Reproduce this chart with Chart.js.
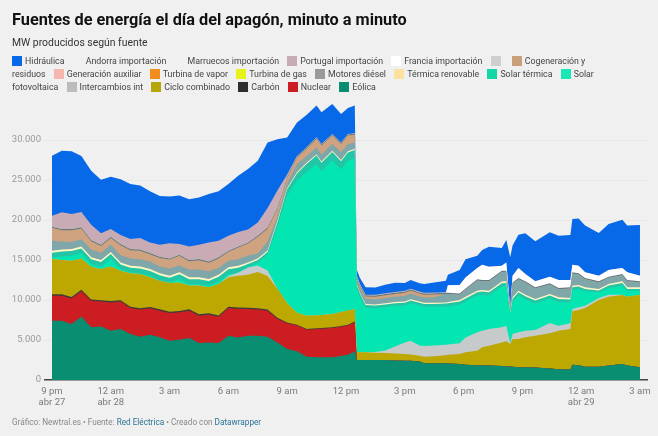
<!DOCTYPE html>
<html lang="es">
<head>
<meta charset="utf-8">
<title>Fuentes de energía el día del apagón</title>
<script src="https://cdn.jsdelivr.net/npm/chart.js@4"></script>
<style>
html,body{margin:0;padding:0;background:#f0f0f0;}
body{width:658px;height:436px;position:relative;overflow:hidden;font-family:Roboto,sans-serif;}
canvas{position:absolute;left:0;top:0;}
#title{position:absolute;left:12px;top:9px;font-size:16.3px;line-height:22px;font-weight:700;color:#111;white-space:nowrap;}
#sub{position:absolute;left:12px;top:36px;font-size:10.4px;line-height:14px;color:#333;white-space:nowrap;}
#legend{position:absolute;left:12px;top:55px;width:600px;font-size:8.8px;line-height:13.2px;color:#444;}
#legend .sw{display:inline-block;width:10px;height:10px;margin-right:3px;vertical-align:-1.5px;}
#legend .it{margin-right:6px;}
#foot{position:absolute;left:12px;top:416px;font-size:8.2px;line-height:12px;color:#888;white-space:nowrap;}
#foot a{color:#2b7396;text-decoration:none;}
</style>
</head>
<body>
<canvas id="c" width="658" height="436"></canvas>
<div id="title">Fuentes de energía el día del apagón, minuto a minuto</div>
<div id="sub">MW producidos según fuente</div>
<div id="legend"></div>
<div id="foot">Gráfico: Newtral.es • Fuente: <a>Red Eléctrica</a> • Creado con <a>Datawrapper</a></div>
<script>
// hours since 9 pm, Apr 27
const hours = [0,0.5,1,1.5,2,2.5,3,3.5,4,4.5,5,5.5,6,6.5,7,7.5,8,8.5,9,9.5,10,10.5,11,11.5,12,12.5,13,13.5,13.75,14.3,14.75,15.1,15.45,15.55,15.7,16,16.5,17,17.5,18,18.3,18.75,19,19.5,20.1,20.2,20.8,21.1,21.7,21.95,22.3,22.95,23.18,23.38,23.5,23.8,24.15,24.66,25.4,25.85,26.45,26.55,26.87,27.2,27.9,28.4,29.1,29.35,30];

const eolica = [7400,7400,7000,7900,6580,6700,6170,6370,5750,5400,5660,5330,4900,5040,5250,4620,4700,4620,5540,5300,5540,5540,5400,4700,3875,3580,2900,2830,2830,2830,3000,3170,3580,2500,2500,2500,2500,2500,2450,2400,2400,2300,2080,2080,2080,2050,2000,1900,1850,1830,1800,1750,1700,1700,1650,1600,1580,1550,1450,1350,1300,1900,1850,1670,1670,1800,2000,1800,1580];
const nuclear = [3140,3140,3200,3200,3320,3100,3530,3430,3250,3400,3300,3330,3475,3420,3410,3420,3470,3280,3460,3600,3335,3260,3260,2925,3205,3220,3390,3545,3570,3670,3650,3630,3620,0,0,0,0,0,0,0,0,0,0,0,0,0,0,0,0,0,0,0,0,0,0,0,0,0,0,0,0,0,0,0,0,0,0,0,0];
const carbon = [170,170,170,170,170,170,170,170,170,170,170,170,170,170,170,170,170,170,170,170,170,170,150,150,120,100,100,100,100,100,100,100,100,0,0,0,0,0,0,0,0,0,0,0,0,0,0,0,0,0,0,0,0,0,0,0,0,0,0,0,0,0,0,0,0,0,0,0,0];
const cicloCombinado = [4415,4290,4530,3930,4100,3905,4330,3700,4160,4280,3700,3570,3580,3570,2970,3590,3240,3930,3660,3970,4105,4530,4190,3625,2400,1500,1650,1625,1625,1650,1750,1800,1575,960,960,960,920,875,850,850,800,740,820,880,1020,1100,1250,1560,1820,2250,2490,2950,3130,2800,3475,3525,3750,3990,4380,4820,5075,6680,6900,7330,8330,8620,8620,8600,9090];
const intercambios = [0,0,0,0,0,0,0,0,0,0,0,0,0,0,0,0,0,0,170,360,910,810,690,0,0,0,0,0,0,0,0,0,0,0,0,0,80,325,900,1450,1700,1260,1350,1340,1300,1300,1350,1840,2290,2090,2085,1880,1960,100,625,835,840,710,1295,620,705,295,330,290,250,250,50,20,0];
const solarFotovoltaica = [195,450,625,650,310,275,950,180,110,100,195,80,65,410,180,180,195,320,230,40,30,330,1960,7700,13500,16500,18000,18900,18000,19200,17800,18700,18800,7900,7000,5550,5450,5400,5050,4600,4700,5000,4900,4850,4800,4750,4800,4500,4600,4450,4200,5100,4950,3500,4000,4600,3900,3300,3050,2950,2600,2350,2250,1800,700,800,1100,700,500];
const solarTermica = [600,600,600,600,600,600,600,600,600,600,600,600,600,600,600,600,600,600,600,600,400,350,350,600,750,900,1000,1050,1025,1060,1050,1050,1075,500,400,350,350,350,350,350,350,350,350,350,350,400,400,400,410,430,400,420,390,300,380,410,400,375,375,390,370,365,345,300,250,330,360,260,210];
const termicaRenovable = [250,250,250,250,250,250,250,250,250,250,250,250,250,250,250,250,250,250,250,250,200,200,200,200,150,160,160,150,150,150,150,150,150,140,140,140,150,150,150,150,150,150,150,150,150,150,200,200,200,200,195,200,200,100,200,200,200,200,200,200,200,200,200,190,175,200,200,200,200];
const motoresDiesel = [1230,1000,875,900,970,900,900,900,910,900,925,870,910,840,970,970,975,830,820,810,870,610,1100,600,600,1040,800,900,900,840,1000,900,800,500,500,650,650,650,650,700,700,650,650,700,1050,1000,650,900,1280,1100,1180,1200,1190,200,1720,1430,1510,1305,1180,1020,1180,1520,1305,1020,805,770,770,770,600];
const turbinaGas = [];
const turbinaVapor = [];
const generacionAuxiliar = [];
const cogeneracion = [1620,1425,1475,1350,1050,850,850,1250,1025,1050,925,1050,1100,1220,1050,1175,1050,1180,1120,1450,1490,2110,1610,850,650,800,930,1050,1100,1050,1000,1050,950,350,350,300,300,350,350,400,350,350,350,350,0,0,0,0,0,0,0,0,0,0,0,0,0,0,0,0,0,0,0,0,0,0,0,0,0];
const otros = [150,150,150,150,150,150,150,150,150,150,150,150,150,150,150,150,150,150,150,150,150,150,150,150,150,150,150,150,150,150,150,150,150,150,150,150,150,150,150,150,150,150,150,150,150,150,150,150,150,150,150,150,150,100,150,150,150,150,150,150,150,150,150,150,150,150,150,150,150];
const francia = [0,0,0,0,0,0,0,0,0,0,0,0,0,0,0,0,0,0,0,0,0,0,0,0,0,0,0,0,0,0,0,0,0,0,0,0,0,0,0,0,0,0,0,0,50,950,1075,1350,1400,1900,1670,640,1030,100,840,1250,920,750,820,1000,920,940,960,710,710,830,750,960,710];
const portugal = [1370,2085,1875,1900,1900,1430,975,1125,1250,1450,1325,1500,1880,1330,1700,1775,2400,2070,1870,1800,1600,1640,2440,2200,300,50,20,50,50,50,50,50,50,100,100,50,100,100,100,100,100,100,100,100,0,0,0,0,0,0,0,0,0,0,0,0,0,0,0,0,0,0,0,0,0,0,0,0,0];
const marruecos = [];
const andorra = [];
const hidraulica = [7500,7710,7850,7000,6770,6710,6525,6975,6875,6550,6400,6100,5870,6050,5900,5900,6050,6200,6460,7040,7575,7700,8200,6400,4600,4200,4060,3950,3960,3750,3550,3250,3450,700,700,950,900,1050,1170,980,1100,1050,1100,1250,1450,1320,1875,2300,1540,1850,2500,2210,2800,6430,3760,4170,5080,5000,5560,5540,5625,5725,5910,5840,5335,5750,6040,5840,6330];

// bottom of the stack first
const seriesNames = ["Eólica","Nuclear","Carbón","Ciclo combinado","Intercambios int","Solar fotovoltaica","Solar térmica","Térmica renovable","Motores diésel","Turbina de gas","Turbina de vapor","Generación auxiliar","Cogeneración y residuos","","Francia importación","Portugal importación","Marruecos importación","Andorra importación","Hidráulica"];
const seriesData = [eolica,nuclear,carbon,cicloCombinado,intercambios,solarFotovoltaica,solarTermica,termicaRenovable,motoresDiesel,turbinaGas,turbinaVapor,generacionAuxiliar,cogeneracion,otros,francia,portugal,marruecos,andorra,hidraulica];
const fillColors = ["#098e72","#cb1d22","#3c3c3c","#bca800","#c6caca","#04e6b2","#22c6a6","#fff6c4","#7fa6a8","#e8f21a","#f28c1e","#f4b6ae","#cfa37f","#66797f","#ffffff","#c9abb5","#f3efe2","#f3efe2","#0869e8"];
const swatchColors = ["#098e72","#cb1d22","#2e2e2e","#b5a60a","#bcbcbc","#19e8b4","#14d6a6","#fde29e","#999999","#e8f21a","#f28c1e","#f4b6ae","#c9a07a","#cfcfcf","#ffffff","#c9abb5","#f0f0f0","#f0f0f0","#0869e8"];

const yTicks = [0,5000,10000,15000,20000,25000,30000];
const yTickLabels = ["0","5.000","10.000","15.000","20.000","25.000","30.000"];
const xTicks = [0,3,6,9,12,15,18,21,24,27,30];
const xTickLabels = [["9 pm","abr 27"],["12 am","abr 28"],"3 am","6 am","9 am","12 pm","3 pm","6 pm","9 pm",["12 am","abr 29"],"3 am"];

const legend = document.getElementById('legend');
for (let i = seriesNames.length - 1; i >= 0; i--) {
  const sw = document.createElement('span');
  sw.className = 'sw';
  sw.style.background = swatchColors[i];
  legend.appendChild(sw);
  const it = document.createElement('span');
  it.className = 'it';
  it.textContent = seriesNames[i];
  legend.appendChild(it);
  legend.appendChild(document.createTextNode(' '));
}

new Chart(document.getElementById('c'), {
  type: 'line',
  data: {
    datasets: seriesData.map((vals, i) => ({
      label: seriesNames[i],
      data: vals.map((v, j) => ({x: hours[j], y: v})),
      backgroundColor: fillColors[i],
      borderWidth: 0,
      pointRadius: 0,
      tension: 0,
      fill: true
    }))
  },
  options: {
    responsive: false,
    animation: false,
    layout: {padding: {top: 100, right: 10, left: 0, bottom: 0}},
    plugins: {legend: {display: false}, title: {display: false}, tooltip: {enabled: false}},
    scales: {
      x: {
        type: 'linear', min: 0, max: 30.41, stacked: true,
        grid: {display: false}, border: {display: false},
        afterFit: s => { s.height = 56; },
        afterBuildTicks: s => { s.ticks = xTicks.map(v => ({value: v})); },
        ticks: {
          autoSkip: false, maxRotation: 0, padding: -2,
          color: '#7a7a7a', font: {family: 'Roboto', size: 9.5, lineHeight: 1.15},
          callback: v => xTickLabels[xTicks.indexOf(v)]
        }
      },
      y: {
        min: 0, max: 35000, stacked: true,
        border: {display: false},
        grid: {
          color: c => c.tick && c.tick.value === 0 ? '#444444' : '#e8e8e8',
          lineWidth: c => c.tick && c.tick.value === 0 ? 1.5 : 1,
          tickLength: 8,
          z: 0
        },
        afterFit: s => { s.width = 52; },
        afterBuildTicks: s => { s.ticks = yTicks.map(v => ({value: v})); },
        ticks: {
          padding: 3, color: '#9a9a9a', font: {family: 'Roboto', size: 9.5},
          callback: v => yTickLabels[yTicks.indexOf(v)]
        }
      }
    }
  }
});
</script>
</body>
</html>
